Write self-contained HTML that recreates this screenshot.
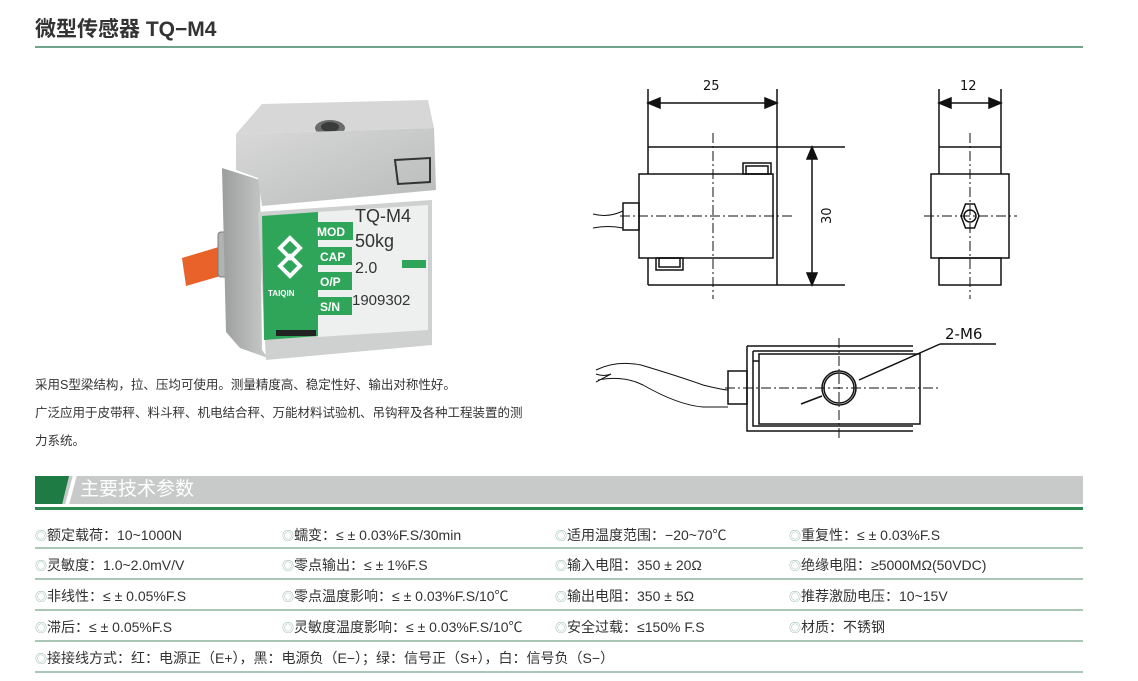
<!DOCTYPE html>
<html><head><meta charset="utf-8"><style>
*{margin:0;padding:0;box-sizing:border-box}
body{width:1138px;height:681px;background:#fff;position:relative;overflow:hidden;font-family:"Liberation Sans","Noto Sans CJK SC",sans-serif;color:#333}
.a{position:absolute;white-space:nowrap}
.t{font-size:14px;line-height:16px}
.c{color:#8fb8a4;font-size:12px}
.sep{position:absolute;left:35px;width:1048px;height:2px;background:#a9c6b6}
.p{font-size:12.5px;line-height:16px;color:#333}
</style></head><body>
<div class="a" style="left:35px;top:13px;font-size:21px;font-weight:bold;color:#333">微型传感器 TQ−M4</div>
<div class="a" style="left:35px;top:46px;width:1048px;height:2px;background:#6fa58a"></div>

<svg class="a" style="left:0;top:0" width="1138" height="470">
<defs>
<linearGradient id="g1" x1="0" y1="0" x2="1" y2="1"><stop offset="0" stop-color="#d8d9d8"/><stop offset="1" stop-color="#b9bbba"/></linearGradient>
<linearGradient id="g2" x1="0" y1="0" x2="1" y2="0"><stop offset="0" stop-color="#9c9e9d"/><stop offset="1" stop-color="#c9cbca"/></linearGradient>
</defs>
<!-- photo -->
<g>
<path d="M182 258 L222 246 L224 275 L186 286 Z" fill="#e8622a"/>
<rect x="218" y="232" width="32" height="45" rx="3" fill="#b0b3b2" stroke="#7a7c7b"/>
<path d="M222 168 L260 180 L262 350 L268 358 L240 348 L226 332 Z" fill="url(#g2)"/>
<path d="M236 134 L262 104 L428 100 L434 128 Z" fill="#d6d7d6"/>
<ellipse cx="330" cy="128" rx="15" ry="8" fill="#6a6c6b"/>
<ellipse cx="330" cy="127" rx="9" ry="5" fill="#3a3b3b"/>
<path d="M236 134 L434 128 L436 190 L262 206 L258 178 L236 170 Z" fill="url(#g1)"/>
<path d="M258 212 L432 200 L432 345 L266 360 Z" fill="#cfd1d0"/>
<path d="M262 216 L318 212 L318 336 L264 340 Z" fill="#2fa55a"/>
<path d="M318 212 L428 205 L428 330 L318 337 Z" fill="#eef0ef"/>
<rect x="316" y="222" width="37" height="18" fill="#2fa55a"/>
<rect x="316" y="247" width="36" height="18" fill="#2fa55a"/>
<rect x="316" y="272" width="36" height="18" fill="#2fa55a"/>
<rect x="316" y="297" width="36" height="18" fill="#2fa55a"/>
<text x="317" y="236" font-size="12" font-weight="bold" fill="#fff">MOD</text>
<text x="320" y="261" font-size="12" font-weight="bold" fill="#fff">CAP</text>
<text x="320" y="286" font-size="12" font-weight="bold" fill="#fff">O/P</text>
<text x="320" y="311" font-size="12" font-weight="bold" fill="#fff">S/N</text>
<text x="355" y="222" font-size="18" fill="#333">TQ-M4</text>
<text x="355" y="247" font-size="18" fill="#333">50kg</text>
<text x="355" y="273" font-size="16" fill="#333">2.0</text>
<text x="352" y="305" font-size="15" fill="#333">1909302</text>
<rect x="402" y="260" width="24" height="8" fill="#2fa55a"/>
<path d="M290 238 l10 10 -10 10 -10 -10z M290 256 l10 10 -10 10 -10 -10z" fill="none" stroke="#fff" stroke-width="4"/>
<text x="268" y="296" font-size="8" font-weight="bold" fill="#fff">TAIQIN</text>
<rect x="276" y="330" width="40" height="6" fill="#222"/>
<path d="M395 160 L430 158 L430 182 L398 184 Z" fill="none" stroke="#333" stroke-width="2"/>
</g>
<!-- drawings -->
<g stroke="#111" stroke-width="1.5" fill="none">
<line x1="648" y1="89" x2="648" y2="174"/><line x1="777" y1="89" x2="777" y2="285"/>
<line x1="652" y1="103" x2="773" y2="103"/>
<path d="M648 103 l12 -5 v10z M777 103 l-12 -5 v10z" fill="#111"/>
<line x1="648" y1="147" x2="845" y2="147"/><line x1="648" y1="285" x2="845" y2="285"/>
<line x1="648" y1="258" x2="648" y2="285"/>
<rect x="639" y="174" width="134" height="84"/>
<rect x="743" y="163" width="28" height="11"/><rect x="746" y="166" width="22" height="8"/>
<rect x="656" y="258" width="27" height="12"/><rect x="659" y="258" width="21" height="9"/>
<rect x="623" y="203" width="16" height="27"/>
<path d="M593 214 q15 4 30 -3 M593 228 q15 -3 30 0" stroke-width="1"/>
<line x1="812" y1="151" x2="812" y2="281"/>
<path d="M812 147 l-5 12 h10z M812 285 l-5 -12 h10z" fill="#111"/>
<line x1="939" y1="89" x2="939" y2="174"/><line x1="1001" y1="89" x2="1001" y2="174"/>
<line x1="943" y1="103" x2="997" y2="103"/>
<path d="M939 103 l12 -5 v10z M1001 103 l-12 -5 v10z" fill="#111"/>
<line x1="939" y1="147" x2="1001" y2="147"/>
<rect x="931" y="174" width="78" height="84"/>
<rect x="939" y="258" width="62" height="27"/>
<path d="M961 216 l4.5 -12 h9 l4.5 12 -4.5 12 h-9z"/>
<circle cx="970" cy="216" r="6"/>
<path d="M747 346 H913 M747 346 V431 H913 M753 351 H913 M753 351 V426 H913" />
<rect x="759" y="354" width="161" height="70"/>
<line x1="753" y1="361" x2="759" y2="361"/>
<circle cx="839" cy="388" r="17"/><circle cx="839" cy="388" r="15"/>
<rect x="728" y="371" width="19" height="33"/>
<path d="M596 370 q20 -10 45 -5 q40 12 62 20 q20 5 25 5 M596 374 q8 3 15 0 l-15 8 M598 380 q25 -5 45 5 q35 20 60 22 q12 0 25 0" stroke-width="1"/>
<line x1="940" y1="344" x2="996" y2="344"/><line x1="940" y1="344" x2="859" y2="380"/>
<line x1="801" y1="404" x2="822" y2="396"/>
</g>
<g stroke="#111" stroke-width="1" stroke-dasharray="10,3,2,3" fill="none">
<line x1="713" y1="133" x2="713" y2="299"/><line x1="620" y1="216" x2="793" y2="216"/>
<line x1="970" y1="133" x2="970" y2="299"/><line x1="924" y1="216" x2="1017" y2="216"/>
<line x1="725" y1="388" x2="940" y2="388"/><line x1="839" y1="338" x2="839" y2="440"/>
</g>
<g font-family="DejaVu Sans, sans-serif" fill="#111" font-size="13">
<text x="703" y="90">25</text><text x="960" y="90">12</text>
<text x="945" y="339" font-size="15">2-M6</text>
<text x="0" y="0" transform="translate(831,224) rotate(-90)">30</text>
</g>
</svg>

<div class="a p" style="left:35px;top:377px">采用S型梁结构，拉、压均可使用。测量精度高、稳定性好、输出对称性好。</div>
<div class="a p" style="left:35px;top:405px">广泛应用于皮带秤、料斗秤、机电结合秤、万能材料试验机、吊钩秤及各种工程装置的测</div>
<div class="a p" style="left:35px;top:433px">力系统。</div>

<div class="a" style="left:35px;top:476px;width:1048px;height:28px;background:#c8c9c9"></div>
<div class="a" style="left:35px;top:476px;width:34px;height:28px;background:#1e7b43;clip-path:polygon(0 0,100% 0,80% 100%,0 100%)"></div>
<div class="a" style="left:69px;top:476px;width:4px;height:28px;background:#fff;transform:skewX(-15deg)"></div>
<div class="a" style="left:80px;top:478px;font-size:19px;line-height:24px;color:#fff">主要技术参数</div>
<div class="a" style="left:35px;top:507px;width:1048px;height:3px;background:#2a8a50"></div>

<div class="a t" style="left:35px;top:527px"><span class="c">◎</span>额定载荷：10~1000N</div>
<div class="a t" style="left:282px;top:527px"><span class="c">◎</span>蠕变：≤ ± 0.03%F.S/30min</div>
<div class="a t" style="left:555px;top:527px"><span class="c">◎</span>适用温度范围：−20~70℃</div>
<div class="a t" style="left:789px;top:527px"><span class="c">◎</span>重复性：≤ ± 0.03%F.S</div>
<div class="sep" style="top:547px"></div>
<div class="a t" style="left:35px;top:557px"><span class="c">◎</span>灵敏度：1.0~2.0mV/V</div>
<div class="a t" style="left:282px;top:557px"><span class="c">◎</span>零点输出：≤ ± 1%F.S</div>
<div class="a t" style="left:555px;top:557px"><span class="c">◎</span>输入电阻：350 ± 20Ω</div>
<div class="a t" style="left:789px;top:557px"><span class="c">◎</span>绝缘电阻：≥5000MΩ(50VDC)</div>
<div class="sep" style="top:578px"></div>
<div class="a t" style="left:35px;top:588px"><span class="c">◎</span>非线性：≤ ± 0.05%F.S</div>
<div class="a t" style="left:282px;top:588px"><span class="c">◎</span>零点温度影响：≤ ± 0.03%F.S/10℃</div>
<div class="a t" style="left:555px;top:588px"><span class="c">◎</span>输出电阻：350 ± 5Ω</div>
<div class="a t" style="left:789px;top:588px"><span class="c">◎</span>推荐激励电压：10~15V</div>
<div class="sep" style="top:609px"></div>
<div class="a t" style="left:35px;top:619px"><span class="c">◎</span>滞后：≤ ± 0.05%F.S</div>
<div class="a t" style="left:282px;top:619px"><span class="c">◎</span>灵敏度温度影响：≤ ± 0.03%F.S/10℃</div>
<div class="a t" style="left:555px;top:619px"><span class="c">◎</span>安全过载：≤150% F.S</div>
<div class="a t" style="left:789px;top:619px"><span class="c">◎</span>材质：不锈钢</div>
<div class="sep" style="top:640px"></div>
<div class="a t" style="left:35px;top:650px"><span class="c">◎</span>接接线方式：红：电源正（E+），黑：电源负（E−）；绿：信号正（S+），白：信号负（S−）</div>
<div class="sep" style="top:671px"></div>
</body></html>
